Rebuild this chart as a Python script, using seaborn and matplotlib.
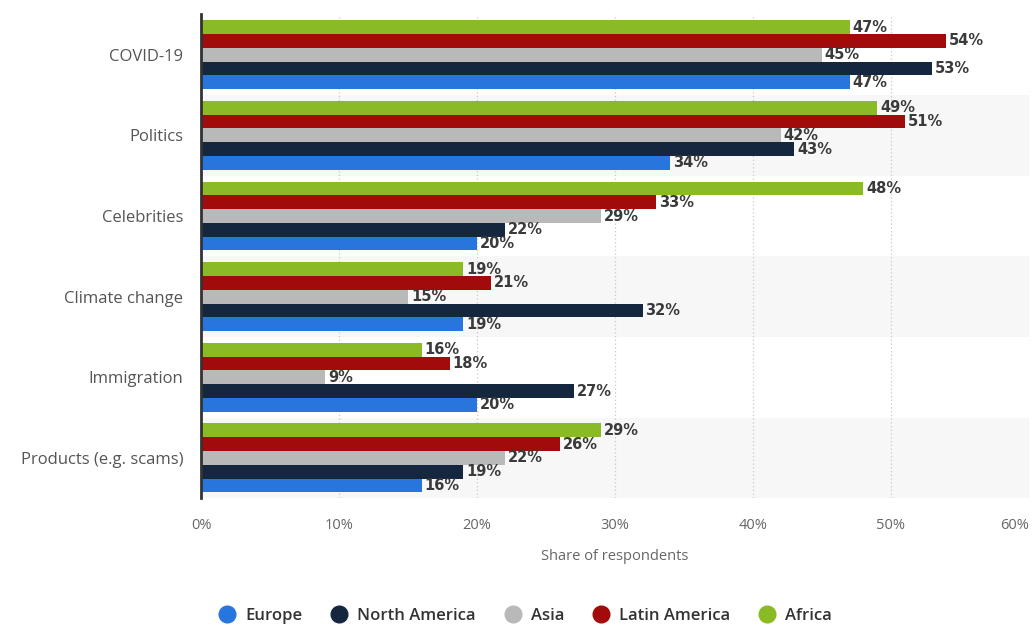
import matplotlib
matplotlib.use('Agg')
import matplotlib.pyplot as plt
from matplotlib.lines import Line2D
import seaborn as sns
import pandas as pd

categories = ['COVID-19', 'Politics', 'Celebrities', 'Climate change',
              'Immigration', 'Products (e.g. scams)']
europe = [47, 34, 20, 19, 20, 16]
north_america = [53, 43, 22, 32, 27, 19]
asia = [45, 42, 29, 15, 9, 22]
latin_america = [54, 51, 33, 21, 18, 26]
africa = [47, 49, 48, 19, 16, 29]

regions = ['Europe', 'North America', 'Asia', 'Latin America', 'Africa']
colors = {'Europe': '#2876dd', 'North America': '#14273f', 'Asia': '#b9b9b9',
          'Latin America': '#a20b0b', 'Africa': '#8aba25'}
x_ticks = [0, 10, 20, 30, 40, 50, 60]

series = dict(zip(regions, [europe, north_america, asia, latin_america, africa]))
rows = []
for reg, vals in series.items():
    for cat, v in zip(categories, vals):
        rows.append({'Topic': cat, 'Region': reg, 'Share': v})
df = pd.DataFrame(rows)

sns.set_style('white')
plt.rcParams['font.family'] = ['Open Sans', 'DejaVu Sans']

fig = plt.figure(figsize=(10.32, 6.26), dpi=100)
ax = fig.add_axes([0.195, 0.204, 0.802, 0.773])

# alternating background bands
for i in range(len(categories)):
    if i % 2 == 1:
        ax.axhspan(i - 0.5, i + 0.5, color='#f7f7f7', zorder=0, lw=0)

draw_order = ['Africa', 'Latin America', 'Asia', 'North America', 'Europe']
sns.barplot(data=df, y='Topic', x='Share', hue='Region', hue_order=draw_order,
            order=categories, palette=colors, orient='h', width=0.855,
            saturation=1, ax=ax, legend=False, linewidth=0, zorder=3)

for cont in ax.containers:
    ax.bar_label(cont, labels=[f'{int(v)}%' for v in cont.datavalues],
                 padding=2, fontsize=10.5, fontweight='bold', color='#3a3a3a',
                 family='DejaVu Sans', zorder=4)

ax.set_xlim(0, 60)
ax.set_ylim(len(categories) - 0.5, -0.5)
ax.set_xticks(x_ticks)
ax.set_xticklabels([f'{t}%' for t in x_ticks], color='#666666', fontsize=10.5)
ax.get_xticklabels()[-1].set_horizontalalignment('right')
ax.tick_params(axis='x', length=0, pad=14)
ax.tick_params(axis='y', length=0, pad=13, labelsize=12, labelcolor='#555555')
ax.set_ylabel('')
ax.set_xlabel('Share of respondents', color='#666666', fontsize=10.5, labelpad=12)

ax.grid(axis='x', linestyle=(0, (1, 2)), color='#c8c8c8', linewidth=0.9, zorder=1)
ax.set_axisbelow(True)
for side in ['top', 'right', 'bottom']:
    ax.spines[side].set_visible(False)
ax.spines['left'].set_color('#333333')
ax.spines['left'].set_linewidth(2)
ax.spines['left'].set_zorder(5)

handles = [Line2D([0], [0], marker='o', linestyle='', markersize=12,
                  markerfacecolor=colors[r], markeredgecolor=colors[r]) for r in regions]
fig.legend(handles, regions, loc='lower center', bbox_to_anchor=(0.505, -0.02),
           ncol=5, frameon=False, handletextpad=0.1,
           columnspacing=1.2, labelcolor='#333333',
           prop={'family': ['Open Sans', 'DejaVu Sans'], 'weight': 'semibold', 'size': 12})

fig.savefig('out.png', dpi=100)
